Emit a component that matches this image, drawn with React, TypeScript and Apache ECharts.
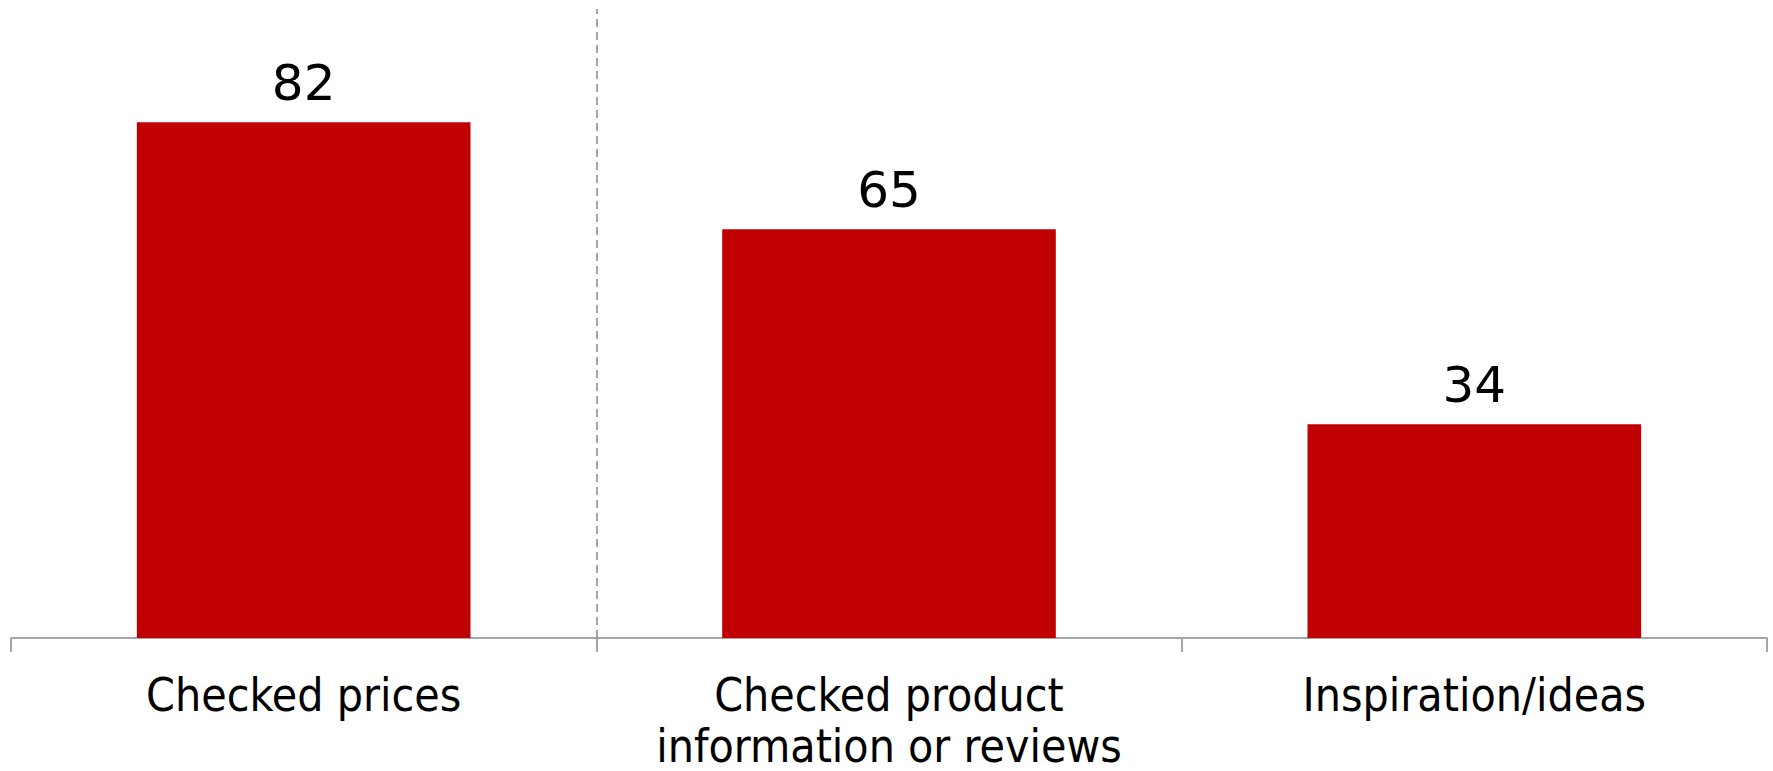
import React, { useEffect, useRef } from "react";
import * as echarts from "echarts";

const categories = ["Checked prices", "Checked product\ninformation or reviews", "Inspiration/ideas"];
const values = [82, 65, 34];
const dividerPositions = [1];

const CAT_FONT = "'DejaVu Sans Condensed', 'DejaVu Sans', Tahoma, sans-serif";
const VAL_FONT = "'DejaVu Sans', Verdana, sans-serif";

export default function App() {
  const ref = useRef<HTMLDivElement>(null);
  useEffect(() => {
    const chart = echarts.init(ref.current!, null, { renderer: "svg" });
    chart.setOption({
      animation: false,
      backgroundColor: "#ffffff",
      grid: { left: 11, right: 6, top: 9, bottom: 129, containLabel: false },
      xAxis: [
        {
          type: "category",
          data: categories,
          boundaryGap: true,
          axisLine: { show: true, lineStyle: { color: "#a6a6a6", width: 2 } },
          axisTick: { show: true, length: 14, alignWithLabel: false, lineStyle: { color: "#a6a6a6", width: 2 } },
          axisLabel: {
            color: "#000000",
            fontFamily: CAT_FONT,
            fontSize: 46,
            lineHeight: 51,
            margin: 31,
            interval: 0,
          },
          splitLine: { show: false },
        },
        {
          type: "value",
          min: 0,
          max: 3,
          show: false,
        },
      ],
      yAxis: {
        type: "value",
        min: 0,
        max: 100,
        show: false,
        splitLine: { show: false },
      },
      series: [
        {
          type: "bar",
          data: values,
          barWidth: "57%",
          itemStyle: { color: "#C00000" },
          label: {
            show: true,
            position: "top",
            distance: 14,
            color: "#000000",
            fontFamily: VAL_FONT,
            fontSize: 50,
          },
        },
        {
          type: "scatter",
          xAxisIndex: 1,
          data: [],
          symbolSize: 0,
          markLine: {
            silent: true,
            symbol: "none",
            label: { show: false },
            lineStyle: { color: "#888888", type: [8, 5], width: 1.5 },
            data: dividerPositions.map((v) => ({ xAxis: v })),
          },
        },
      ],
    });
    return () => chart.dispose();
  }, []);
  return (
    <div
      ref={ref}
      style={{ position: "fixed", left: 0, top: 0, width: 1773, height: 771 }}
    />
  );
}
